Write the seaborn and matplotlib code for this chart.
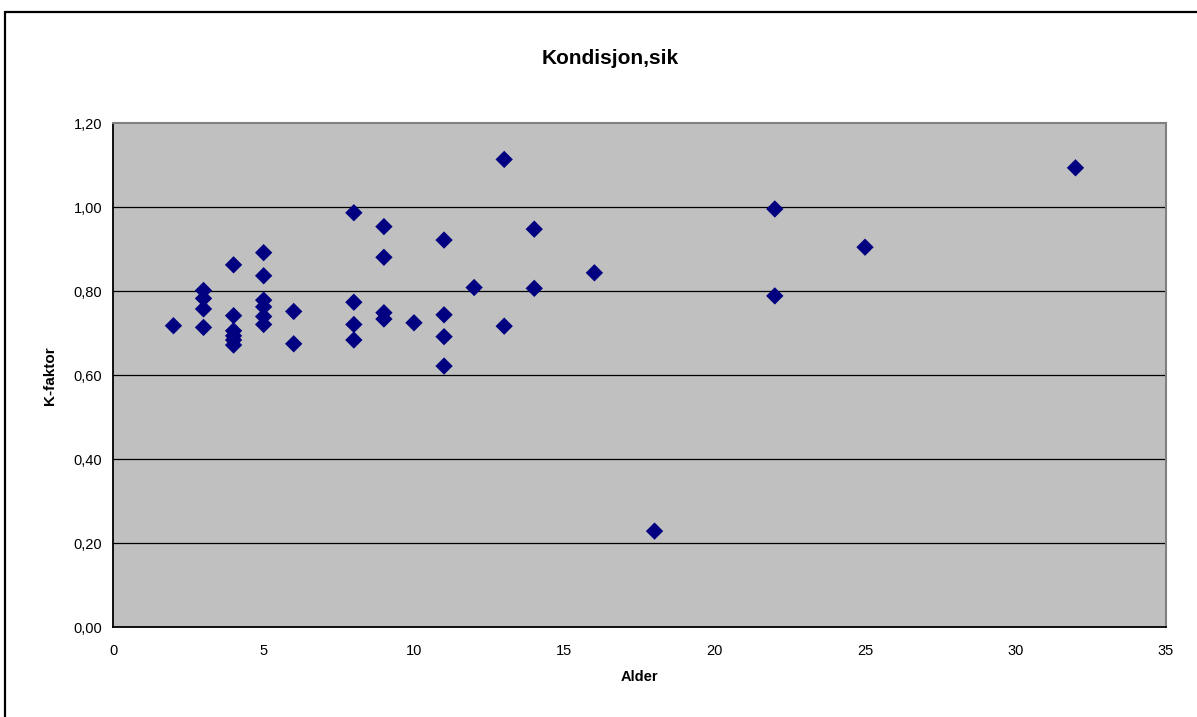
import matplotlib
matplotlib.use("Agg")
import matplotlib.pyplot as plt
from matplotlib.ticker import FuncFormatter, MultipleLocator
from matplotlib.lines import Line2D
import seaborn as sns
import pandas as pd

# Age (years) and condition factor per fish
alder = [2,
         3, 3, 3, 3,
         4, 4, 4, 4, 4, 4,
         5, 5, 5, 5, 5, 5,
         6, 6,
         8, 8, 8, 8,
         9, 9, 9, 9,
         10,
         11, 11, 11, 11,
         12,
         13, 13,
         14, 14,
         16,
         18,
         22, 22,
         25,
         32]
kfaktor = [0.718,
           0.802, 0.783, 0.758, 0.714,
           0.863, 0.742, 0.706, 0.694, 0.684, 0.672,
           0.892, 0.837, 0.779, 0.763, 0.740, 0.721,
           0.752, 0.675,
           0.987, 0.774, 0.721, 0.684,
           0.954, 0.881, 0.749, 0.734,
           0.725,
           0.922, 0.744, 0.692, 0.622,
           0.809,
           1.114, 0.717,
           0.948, 0.807,
           0.844,
           0.229,
           0.996, 0.789,
           0.905,
           1.094]

title = "Kondisjon,sik"
x_label = "Alder"
y_label = "K-faktor"

df = pd.DataFrame({"Alder": alder, "K": kfaktor})

sns.set_style("white")
plt.rcParams["font.family"] = ["Liberation Sans", "DejaVu Sans"]
plt.rcParams["text.color"] = "black"
plt.rcParams["axes.labelcolor"] = "black"

fig = plt.figure(figsize=(11.97, 7.17), dpi=100)
ax = fig.add_axes([113.3 / 1197, 1 - 627.3 / 717,
                   (1165.7 - 113.3) / 1197, (627.3 - 123.3) / 717])
ax.set_facecolor("#C0C0C0")

# horizontal gridlines
for yv in [0.2, 0.4, 0.6, 0.8, 1.0]:
    ax.axhline(yv, color="black", lw=0.9, zorder=1)

sns.scatterplot(data=df, x="Alder", y="K", marker="D", s=78,
                color="#000080", edgecolor="none", linewidth=0,
                ax=ax, zorder=3, legend=False)

ax.set_xlim(0, 35)
ax.set_ylim(0, 1.2)
ax.xaxis.set_major_locator(MultipleLocator(5))
ax.yaxis.set_major_locator(MultipleLocator(0.2))
ax.yaxis.set_major_formatter(FuncFormatter(lambda v, p: f"{v:.2f}".replace(".", ",")))
ax.xaxis.set_major_formatter(FuncFormatter(lambda v, p: f"{int(round(v))}"))

for side in ["left", "bottom"]:
    ax.spines[side].set_color("black")
    ax.spines[side].set_linewidth(1.3)
for side in ["top", "right"]:
    ax.spines[side].set_color("#808080")
    ax.spines[side].set_linewidth(1.5)

ax.tick_params(axis="both", direction="out", length=5, width=1, color="black",
               labelsize=10.5, labelcolor="black", pad=4)
ax.tick_params(axis="x", pad=7)
ax.tick_params(axis="y", pad=3)

ax.set_xlabel(x_label, fontsize=10.5, fontweight="bold", labelpad=9)
ax.set_ylabel(y_label, fontsize=11, fontweight="bold", labelpad=12)

fig.text(610 / 1197, 1 - 58 / 717, title, ha="center", va="center",
         fontsize=15, fontweight="bold", color="black")

# outer chart frame (left and top edges)
fig.add_artist(Line2D([4.5 / 1197, 4.5 / 1197], [0, 1 - 12 / 717],
                      transform=fig.transFigure, color="black", lw=1.6))
fig.add_artist(Line2D([4.5 / 1197, 1], [1 - 12 / 717, 1 - 12 / 717],
                      transform=fig.transFigure, color="black", lw=1.6))

fig.savefig("out.png", dpi=100)
